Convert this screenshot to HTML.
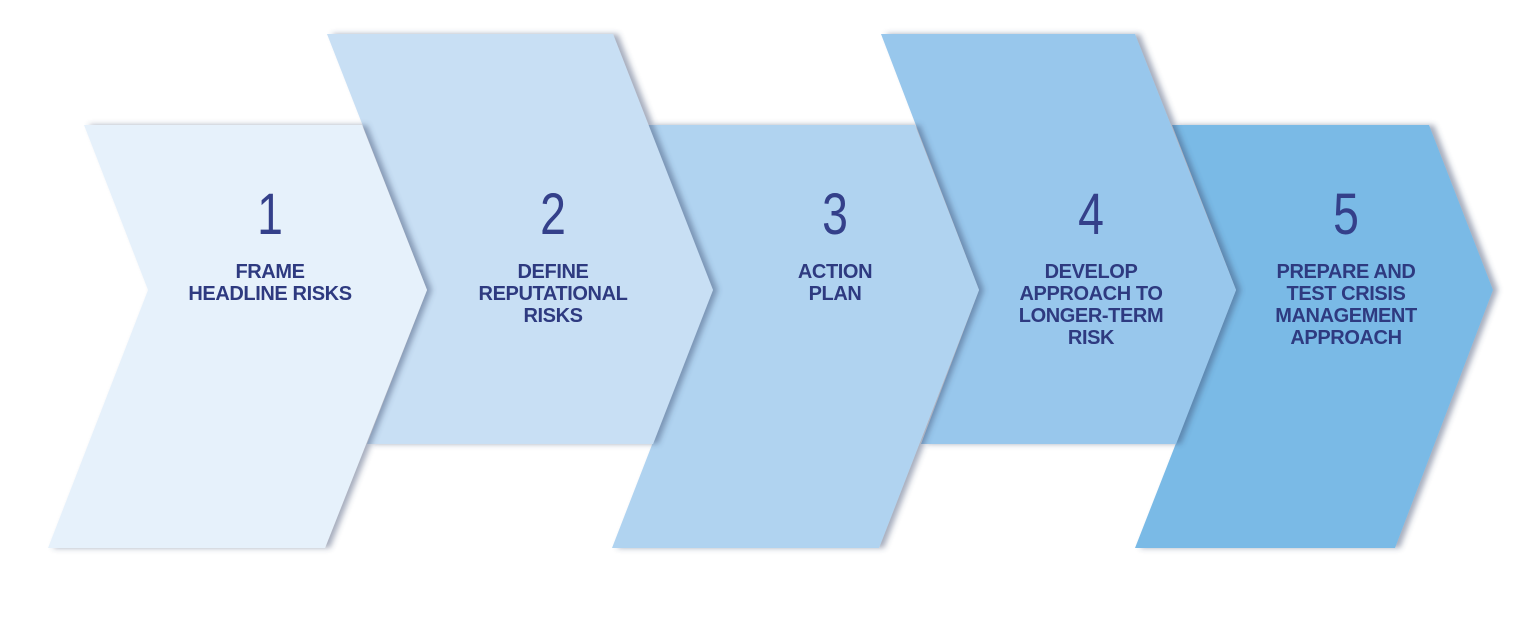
<!DOCTYPE html>
<html><head><meta charset="utf-8"><style>
html,body{margin:0;padding:0;background:#fff;}
body{width:1514px;height:637px;position:relative;overflow:hidden;font-family:"Liberation Sans",sans-serif;}
svg{position:absolute;left:0;top:0;}
.t{position:absolute;width:260px;text-align:center;color:#2e3a80;}
.n{font-size:58px;line-height:58px;top:186px;font-weight:normal;transform:scaleX(0.8);color:#34408a;}
.l{font-size:20px;line-height:22px;top:261px;font-weight:bold;letter-spacing:-0.4px;}
</style></head><body>
<svg width="1514" height="637" viewBox="0 0 1514 637">
<defs>
<filter id="sh" x="-10%" y="-10%" width="130%" height="130%">
<feDropShadow dx="5" dy="0" stdDeviation="3" flood-color="#3a4a70" flood-opacity="0.45"/>
</filter>
</defs>
<polygon filter="url(#sh)" fill="#7abae6" points="1172,125 1429,125 1493,290 1395,548 1135,548 1236,290"/>
<polygon filter="url(#sh)" fill="#98c7ec" points="881,34 1135,34 1236,290 1176,444 921,444 979,290"/>
<polygon filter="url(#sh)" fill="#b0d3f0" points="648,125 915,125 979,290 879,548 612,548 712,290"/>
<polygon filter="url(#sh)" fill="#c8dff4" points="327,34 613,34 713,290 653,444 367,444 427,290"/>
<polygon filter="url(#sh)" fill="#e6f1fb" points="84,125 362,125 427,290 325,548 48,548 148,290"/>
</svg>
<div class="t n" style="left:140px">1</div>
<div class="t l" style="left:140px">FRAME<br>HEADLINE RISKS</div>
<div class="t n" style="left:423px">2</div>
<div class="t l" style="left:423px">DEFINE<br>REPUTATIONAL<br>RISKS</div>
<div class="t n" style="left:705px">3</div>
<div class="t l" style="left:705px">ACTION<br>PLAN</div>
<div class="t n" style="left:961px">4</div>
<div class="t l" style="left:961px">DEVELOP<br>APPROACH TO<br>LONGER-TERM<br>RISK</div>
<div class="t n" style="left:1216px">5</div>
<div class="t l" style="left:1216px">PREPARE AND<br>TEST CRISIS<br>MANAGEMENT<br>APPROACH</div>
</body></html>
